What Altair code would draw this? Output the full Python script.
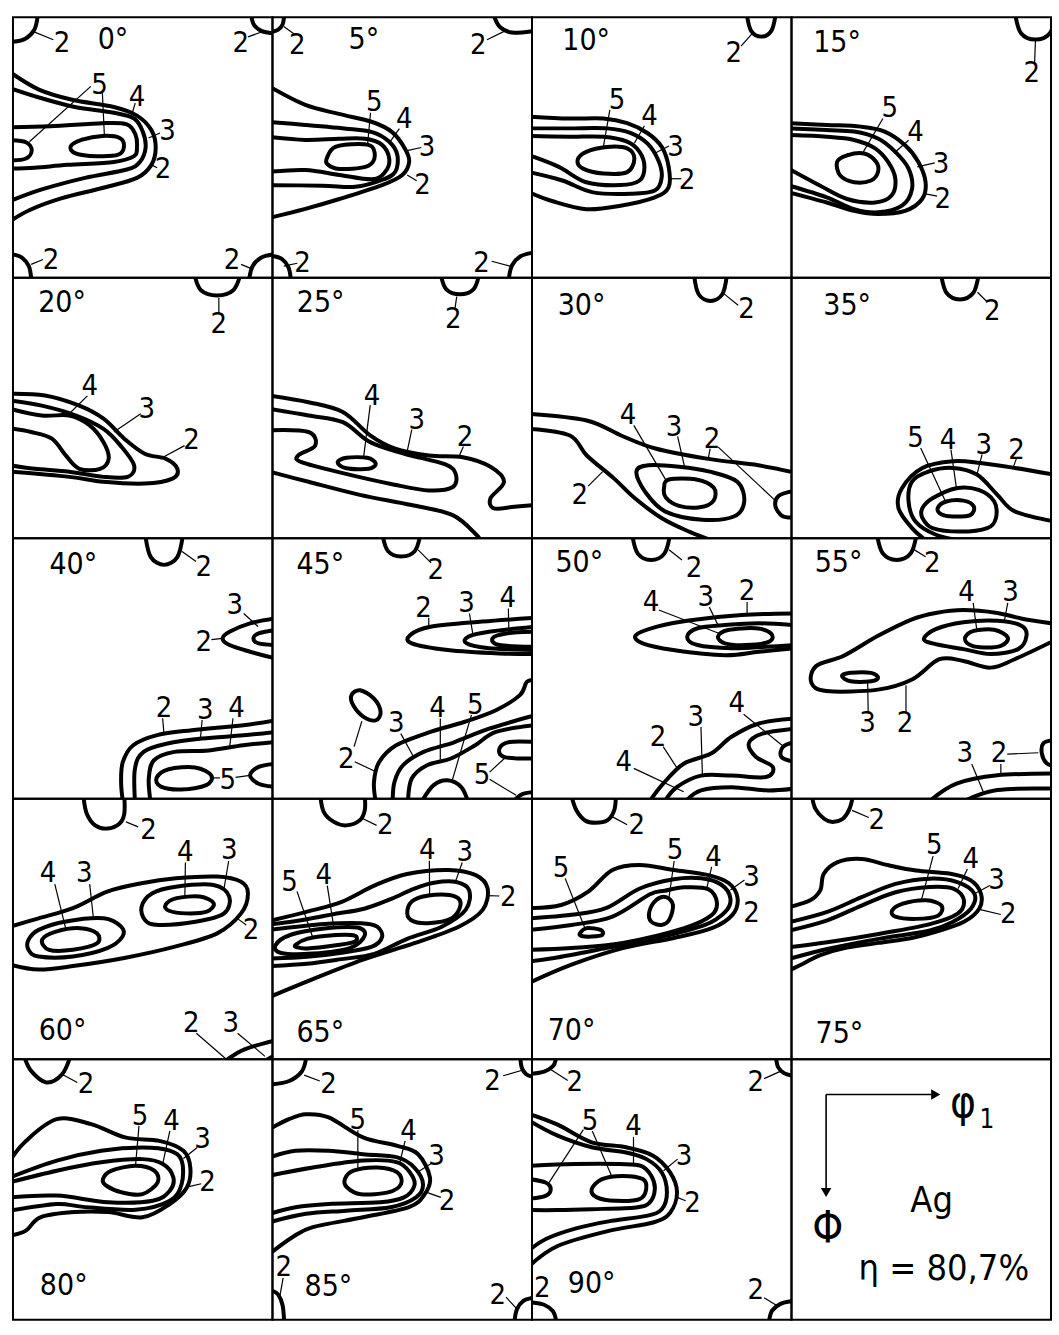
import altair as alt
import pandas as pd

FONT = "Liberation Sans Narrow, DejaVu Sans Condensed, Liberation Sans, sans-serif"

# Section angles (phi2) and where their captions sit inside each panel (phi1, Phi in degrees)
ANGLES = ["0°", "5°", "10°", "15°", "20°", "25°", "30°", "35°", "40°", "45°",
          "50°", "55°", "60°", "65°", "70°", "75°", "80°", "85°", "90°"]
ANGLE_POS = [(34.7, 7.8), (31.7, 7.8), (18.8, 8.1), (15.8, 9), (17, 8.6), (16.7, 8.6),
             (17.2, 9.7), (19.3, 9.8), (20.9, 9.2), (16.6, 9.2), (16.4, 8.7), (16.3, 8.7),
             (17.2, 80.3), (16.6, 80.8), (13.7, 80.3), (16.6, 81.3), (17.6, 78.2),
             (19.4, 78.8), (20.7, 77.8)]

# Each contour: (level, "o" open / "c" closed, [(phi1, Phi), ...])
LINES_00 = [
    (2, "o", [(0, 8.5), (4.3, 7.4), (7.4, 4.3), (8.5, 0)]),
    (2, "o", [(82.7, 0), (83.7, 2.8), (86.3, 4.8), (90, 5.5)]),
    (2, "o", [(0, 82), (3.2, 83.1), (5.5, 86), (6.3, 90)]),
    (2, "o", [(82, 90), (83.1, 86), (86, 83.1), (90, 82)]),
    (2, "o", [(-1, 19), (9, 25), (20.5, 28.5), (35, 31), (43, 34), (48, 39), (49.5, 45), (48, 51),
              (43, 55.5), (31, 59), (17, 62.5), (6, 66.5), (-1, 70.5)]),
    (3, "o", [(-1, 24.5), (10, 28), (21.5, 31), (35, 33), (42, 35), (45, 39.5), (46, 45), (44, 50),
              (39.5, 52.6), (25, 55.5), (10, 59.5), (-1, 63.5)]),
    (4, "o", [(-1, 38), (13, 37.7), (31, 36.6), (39.5, 37), (42.5, 40.6), (43, 45), (42, 48), (35, 50),
              (19, 51), (7.5, 52), (-1, 52.3)]),
    (5, "c", [(20, 44.6), (24, 42.3), (31, 41), (37, 41.7), (38.5, 44.6), (36.5, 47.5), (29, 48), (21.7, 47)]),
    (5, "o", [(-1, 42.5), (4.5, 43.2), (6.5, 46), (4.5, 48.8), (-1, 49.5)]),
]
LABELS_00 = [("2", 17, 9), ("2", 79, 9), ("2", 13.2, 84), ("2", 76, 84), ("5", 30, 23.3),
             ("4", 43, 27.4), ("3", 53.6, 39.4), ("2", 52, 52.6)]
LEADERS_00 = [(6.9, 4.9, 14, 7.8), (81.5, 6.8, 86.5, 5), (6.3, 85.4, 10.4, 83.7), (79.1, 85.4, 83.3, 87.1),
              (31, 26, 31.7, 40.8), (27, 23.9, 5.7, 43), (42.4, 29.7, 41, 34.3), (51, 40, 47, 41.7),
              (50, 52, 48, 51)]

LINES_05 = [
    (2, "o", [(0, 5), (2, 4.3), (3.5, 2.5), (4, 0)]),
    (2, "o", [(77, 0), (79, 3.5), (83, 5.3), (90, 4.8)]),
    (2, "o", [(0, 82.5), (3.2, 83.5), (5.5, 86.3), (6.3, 90)]),
    (2, "o", [(82, 90), (83.1, 85.7), (86, 82.6), (90, 81.4)]),
    (2, "o", [(-1, 24), (11.4, 30.3), (23, 33.4), (34.6, 36.2), (41.5, 39.7), (46, 45.5), (47.4, 50),
              (45, 54.5), (38, 58), (23.2, 62.8), (11.4, 66.2), (-1, 69.3)]),
    (3, "o", [(-1, 36.2), (11.4, 37.2), (26.6, 38.6), (34.6, 39.7), (40.5, 43), (43.3, 47.6), (42.6, 53.4),
              (38, 56.2), (28.7, 58.6), (17.3, 58.2), (-1, 58)]),
    (4, "o", [(-1, 41.4), (11.4, 42.4), (23.2, 42), (32.2, 42), (38, 44.1), (40.5, 49), (39.1, 53.4),
              (34.6, 56), (23.2, 54.5), (11.4, 52.8), (-1, 53.4)]),
    (5, "c", [(19, 48.3), (21.8, 44.8), (30, 43.8), (34.6, 44.8), (35.3, 49), (32.2, 51.7), (23.2, 52.4), (19, 50.7)]),
]
LABELS_05 = [("2", 8.6, 9.5), ("2", 71.4, 9.5), ("2", 10.4, 85), ("2", 72.5, 85), ("5", 35.3, 29.3),
             ("4", 45.7, 35.2), ("3", 53.6, 44.8), ("2", 52, 58)]
LEADERS_05 = [(3.9, 3.2, 7.5, 5.8), (74.4, 7.8, 80.5, 4.8), (3.9, 86, 8.6, 85), (76, 84.3, 82.5, 86),
              (34, 33, 33, 43.8), (44, 38.5, 40.8, 43), (51.6, 45, 46.3, 46.2), (50, 56.5, 46.7, 54.5)]

LINES_10 = [
    (2, "o", [(74.5, -1), (76, 4.7), (79.5, 6.7), (83, 4.7), (84.5, -1)]),
    (2, "o", [(-1, 34.3), (12.9, 35), (24.8, 35), (33, 36.6), (40, 40), (45, 44.8), (47.4, 51.7), (47.4, 58.7),
              (42.6, 62.2), (30.7, 65.1), (18.8, 66.3), (6.9, 63.5), (-1, 60.5)]),
    (3, "o", [(-1, 38.4), (12.9, 38.4), (26, 38.4), (34.3, 40), (40, 43.6), (43.8, 49.4), (45, 55.2),
              (42.6, 59.9), (34.3, 61), (21.2, 60.5), (10.5, 56.4), (-1, 53.5)]),
    (4, "o", [(-1, 41), (12.9, 41.3), (24.8, 41.3), (33, 43), (37.3, 46.5), (39, 51.7), (37.3, 56.4),
              (30.7, 58), (18.8, 57), (9.3, 51.7), (-1, 47.7)]),
    (5, "c", [(15.8, 49.4), (18.8, 46.5), (26, 44.8), (33, 45.3), (35.5, 48.8), (33, 53.5), (24.8, 54), (17.7, 52.3)]),
]
LABELS_10 = [("2", 70, 12.2), ("5", 29.5, 28.5), ("4", 40.8, 34.3), ("3", 49.8, 44.8), ("2", 53.8, 56.4)]
LEADERS_10 = [(72.5, 10, 76.5, 5.5), (27, 32, 24.8, 44.5), (39, 37.5, 35.5, 43.5), (47.5, 44.5, 42.6, 47),
              (51.8, 55.8, 47.6, 55.8)]

LINES_15 = [
    (2, "o", [(77.6, -1), (79.6, 5.5), (84.6, 7.7), (89.6, 5.5), (91.6, -1)]),
    (2, "o", [(-1, 36.6), (12.2, 37.2), (24, 37.8), (32.3, 39.5), (39.4, 44.2), (44, 50), (46.5, 57),
              (45.3, 62.8), (39.4, 66.9), (30, 68), (21.7, 66.9), (12.2, 64), (-1, 60.5)]),
    (3, "o", [(-1, 38.4), (12.2, 39), (21.7, 39.5), (30, 41.9), (36, 46.5), (40.6, 52.3), (41.8, 59.3),
              (38.3, 65.1), (30, 67.4), (21.7, 66.3), (12.2, 62.2), (-1, 58.1)]),
    (4, "o", [(-1, 40.7), (12.2, 41.3), (21.7, 42.4), (29, 45.3), (33.5, 50), (36, 55.8), (34.7, 61.6),
              (29, 64), (19.3, 62.8), (9.8, 58.1), (-1, 52.3)]),
    (5, "c", [(15.8, 50), (19.3, 47.7), (25.2, 47.1), (29.4, 50), (30, 53.5), (27.6, 56.4), (21.7, 57), (16.9, 54.7)]),
]
LABELS_15 = [("2", 83.3, 19.4), ("5", 34.1, 31.4), ("4", 43, 39.5), ("3", 51.9, 50.6), ("2", 52.5, 62.8)]
LEADERS_15 = [(84.6, 8, 84.3, 16), (31.7, 35, 24.5, 47.2), (40.6, 42.5, 35.5, 47), (49.7, 50.3, 43.6, 51.7),
              (50.5, 61.8, 46.5, 61)]

LINES_20 = [
    (2, "o", [(63, -1), (65.2, 4.3), (70.8, 6.1), (76.4, 4.3), (78.8, -1)]),
    (2, "o", [(-1, 40.1), (11.1, 40.7), (23, 44.2), (31.4, 48.7), (38.6, 55.6), (45.7, 60.8), (52.9, 62.5),
              (57, 66), (55.3, 69.4), (45.7, 71.1), (31.4, 70.5), (19.5, 68.8), (-1, 67)]),
    (3, "o", [(-1, 42.4), (10, 44.2), (21.9, 47.6), (31.4, 52.2), (37.3, 58), (42, 64.8), (39.8, 68.8),
              (31.4, 68.8), (19.5, 67), (7.5, 66), (-1, 64.8)]),
    (4, "o", [(-1, 45.3), (10, 47.6), (19.5, 47.6), (26.6, 51), (31.4, 56.8), (33.2, 62.5), (30.2, 66),
              (23, 66), (18.3, 61.4), (13.5, 55.6), (6.3, 53.3), (-1, 52)]),
]
LABELS_20 = [("2", 71.4, 16.1), ("4", 26.6, 37.3), ("3", 46.4, 45.3), ("2", 61.9, 56.2)]
LEADERS_20 = [(71.4, 7, 71.4, 12.5), (25.8, 40.8, 19.5, 47), (44.3, 47, 35, 53.3), (59.5, 58, 51.7, 62.2)]

LINES_25 = [
    (2, "o", [(58.4, -1), (60.3, 4), (65, 5.7), (69.7, 4), (71.6, -1)]),
    (2, "o", [(-1, 40.7), (12.5, 43), (24.4, 46.4), (33.9, 54.5), (42.3, 59), (54.2, 61.4), (66, 62),
              (75.6, 65.3), (80.3, 70.5), (75.6, 76.2), (76.8, 79.7), (83.9, 79.1), (91, 78.5)]),
    (2, "o", [(-1, 67), (12.5, 70.5), (30.3, 75), (48.2, 78.5), (62.5, 82), (70.8, 88.9), (72, 91)]),
    (3, "o", [(-1, 45.3), (12.5, 47.6), (24.4, 49.9), (33.9, 56.8), (45.8, 60.8), (60, 64.5), (63.6, 68),
              (62.4, 72.4), (54.2, 73.5), (42.3, 71.5), (24.4, 67.5), (10.1, 63.7), (8.9, 61.4), (14.8, 58),
              (12.5, 53.3), (-1, 52.7)]),
    (4, "c", [(22.6, 63.8), (25.6, 62.2), (32.8, 62.2), (35.8, 64.2), (33.4, 66), (25.6, 65.8)]),
]
LABELS_25 = [("2", 62.7, 14.3), ("4", 34.5, 40.7), ("3", 50, 49.3), ("2", 66.8, 55)]
LEADERS_25 = [(63.9, 6.5, 63.3, 10.5), (33.9, 44, 31.6, 62), (48.3, 52.5, 46.5, 61), (66.2, 58.3, 64.6, 62)]

LINES_30 = [
    (2, "o", [(56.2, -1), (57.8, 5.7), (61.9, 8), (66, 5.7), (67.6, -1)]),
    (2, "o", [(-1, 47), (19, 49.3), (30.9, 54.5), (42.8, 59), (60.6, 62.5), (78.5, 64.8), (91, 67.3)]),
    (2, "o", [(-1, 52.2), (13.1, 54.5), (19, 61.4), (28.5, 69.4), (35.7, 76.2), (45.2, 83.2), (54.7, 87.8), (63, 91)]),
    (2, "o", [(91, 73.6), (85.6, 75.3), (84.4, 78.8), (86.8, 82.3), (91, 82.8)]),
    (3, "c", [(36.2, 67), (40.3, 64.8), (51, 65.3), (61.6, 67), (71.2, 70.5), (73.6, 77.4), (70, 82.5),
              (59, 83.6), (46.3, 80.8), (39.2, 73.9)]),
    (4, "c", [(45.8, 72.5), (47.5, 69.7), (57, 69.7), (63, 72.5), (63, 77), (58.2, 79.3), (51, 78.8), (46.4, 75.9)]),
]
LABELS_30 = [("2", 74.4, 10.9), ("4", 33.3, 47.6), ("3", 49.3, 51.6), ("2", 62.4, 55.6), ("2", 16.6, 75)]
LEADERS_30 = [(66.5, 5.5, 71.5, 9.5), (35.3, 51, 46.5, 70), (50.5, 54.8, 52.9, 65.3), (61.8, 59, 61.2, 62),
              (64.6, 58.5, 84.4, 77), (19.5, 72, 24.5, 67)]

LINES_35 = [
    (2, "o", [(51.9, -1), (53.8, 5.3), (58.4, 7.5), (63, 5.3), (64.9, -1)]),
    (2, "o", [(91, 68), (77.4, 65.7), (65.5, 64), (56, 63.4), (45.4, 65.7), (38.3, 72.7), (37.1, 79.6),
              (41.8, 86.5), (47, 91)]),
    (3, "o", [(91, 84.2), (77.4, 80.7), (71.4, 75), (64.3, 68), (56, 65.7), (47.7, 66.9), (41.8, 70.4),
              (40.6, 77.3), (43, 84.2), (50.1, 88.8), (59.6, 91)]),
    (4, "c", [(45.4, 79.6), (48.9, 76.2), (57.2, 72.7), (64.9, 73.3), (70.3, 77.3), (70.9, 83), (67.9, 86.5),
              (58.4, 87.7), (48.9, 86.5), (45.4, 83)]),
    (5, "c", [(50.7, 79.6), (53.7, 77.3), (59.6, 77), (63.2, 79), (62, 82), (56, 82.5), (51.9, 81.7)]),
]
LABELS_35 = [("2", 69.6, 11.5), ("5", 43, 55.4), ("4", 54.3, 56), ("3", 66.7, 57.7), ("2", 78, 59.4)]
LEADERS_35 = [(64.5, 5, 67.8, 8.3), (44.8, 58.8, 53.5, 77.5), (55.3, 59.4, 57.2, 72.7), (66.1, 61, 64.3, 68),
              (78, 62.5, 76.8, 65.7)]

LINES_40 = [
    (2, "o", [(45.9, -1), (47.8, 6.5), (52.4, 9.2), (57, 6.5), (58.9, -1)]),
    (2, "o", [(91, 27.7), (82.2, 29.4), (75.1, 32.3), (72.7, 34.6), (75.1, 36.9), (82.2, 39.2), (91, 41.5)]),
    (3, "o", [(91, 31.7), (85.2, 32.9), (83.4, 34.6), (85.2, 36.3), (91, 36.9)]),
    (2, "o", [(91, 62.9), (79.9, 64.6), (62, 66.3), (50, 68), (41.7, 71.5), (38.1, 77.3), (37.5, 84.2), (38.1, 91)]),
    (3, "o", [(91, 66.9), (79.9, 68.1), (65.6, 69.2), (53.6, 70.9), (45.3, 73.8), (42.3, 79.6), (42.3, 91)]),
    (4, "o", [(91, 70.4), (79.9, 71.5), (67.9, 73.3), (56, 73.8), (48.9, 76.7), (47.1, 83), (47.7, 91)]),
    (5, "c", [(49.8, 82.8), (54, 79.8), (63.2, 79.2), (68.8, 82), (67, 85.3), (58.4, 86.8), (51.3, 85.8)]),
    (5, "o", [(91, 77.9), (85.2, 79), (82.2, 81.9), (85.2, 84.8), (91, 85.9)]),
]
LABELS_40 = [("2", 66.2, 9.8), ("3", 76.9, 23), ("2", 66.2, 35.8), ("2", 52.4, 58.8), ("3", 66.7, 59.4),
             ("4", 77.5, 58.8), ("5", 74.5, 83.6)]
LEADERS_40 = [(58.5, 4.5, 63.5, 8), (80, 26, 85, 30.5), (68.8, 35, 72.7, 34.6), (51.9, 62.2, 52.4, 67.8),
              (65.6, 62.8, 65, 69.2), (76.3, 62.2, 75.1, 72.6), (69, 82.8, 71.8, 82.8), (77.2, 82.6, 82.2, 81.9)]

LINES_45 = [
    (2, "o", [(38.2, -1), (40.1, 4.5), (44.7, 6.3), (49.3, 4.5), (51.2, -1)]),
    (2, "o", [(91, 27.5), (72.7, 28.8), (54.8, 30.6), (47.7, 33.5), (48.3, 36.3), (60.8, 38.6), (78.7, 39.8), (91, 40)]),
    (3, "o", [(91, 30.6), (75.1, 32.3), (67.9, 34), (67.3, 36.3), (75.1, 38), (91, 38.6)]),
    (4, "o", [(91, 32.3), (81, 32.9), (76.3, 34.6), (78.7, 36.9), (91, 37.5)]),
    (2, "c", [(27.4, 54.2), (30.4, 52.5), (35.2, 55.4), (37.5, 60), (35.8, 62.9), (31.6, 61.7), (28, 57.7)]),
    (2, "o", [(35.8, 91), (35.2, 84.2), (37, 77.3), (42.9, 71.5), (54.8, 66.9), (66.7, 63.4), (77.5, 59.4),
              (85.8, 54.2), (88.2, 49.6), (91, 49)]),
    (3, "o", [(41.7, 91), (42.3, 84.2), (45.3, 78.4), (52.4, 73.8), (63.2, 70.4), (75.1, 65.8), (91, 61.2)]),
    (4, "o", [(47, 91), (48.3, 83), (53.6, 78.4), (61.9, 76.1), (70.3, 71.5), (77.5, 66.9), (91, 64.6)]),
    (5, "o", [(51.7, 91), (55.9, 85.3), (60.7, 83.6), (65.4, 85.9), (67.8, 91)]),
    (5, "o", [(91, 70.4), (82.2, 70.4), (78.7, 72.7), (80.5, 75.6), (91, 76.1)]),
    (5, "o", [(83.5, 91), (86.5, 88.5), (91, 87.7)]),
]
LABELS_45 = [("2", 56.6, 11), ("2", 52.4, 24.2), ("3", 67.3, 22.5), ("4", 81.6, 20.8), ("2", 25.6, 76.1),
             ("3", 42.9, 64), ("4", 57.2, 58.8), ("5", 70.3, 57.7), ("5", 72.7, 81.9)]
LEADERS_45 = [(50.5, 4, 55, 8.5), (54.2, 27.5, 54.2, 30.6), (68.3, 26, 69.5, 33.2), (81.8, 24.3, 82, 32.9),
              (31, 63.2, 28.3, 72), (28.5, 77.2, 35.5, 80.5), (44.5, 67.5, 48.9, 75.5), (58.2, 62.3, 58.2, 76.5),
              (69, 61, 62.3, 83.8), (75.3, 80.8, 80.5, 76), (75.3, 83.3, 84.5, 88.8)]

LINES_50 = [
    (2, "o", [(34.8, -1), (36.7, 5.3), (41.3, 7.5), (45.9, 5.3), (47.8, -1)]),
    (2, "o", [(91, 26), (72.8, 26.5), (55, 28.3), (43.1, 30.6), (36, 33.5), (38.4, 36.3), (49, 38.6),
              (66.9, 40.4), (78.7, 39.2), (91, 38)]),
    (3, "o", [(91, 30), (78.7, 29.4), (66.9, 30), (57.4, 31.1), (53.8, 34), (57.4, 36.9), (69.3, 38),
              (81.1, 37.5), (91, 36.9)]),
    (4, "c", [(64.5, 34), (68, 31.7), (77.6, 31.1), (82.9, 32.9), (82.3, 35.7), (74, 36.9), (66.9, 36.3)]),
    (2, "o", [(40.7, 91), (45.5, 84.8), (52.6, 77.9), (62.1, 74.4), (69.2, 68.6), (78.7, 64), (91, 62.3)]),
    (3, "o", [(46, 91), (50.2, 86), (58.6, 82), (69.2, 82), (81.1, 82.5), (83.5, 79), (77.6, 75.5), (75.2, 70.9),
              (79.9, 67.5), (91, 65.8)]),
    (4, "o", [(53.2, 91), (58.6, 87.1), (69.2, 86), (81.1, 87.1), (91, 86.5)]),
    (4, "o", [(91, 70.4), (87, 72.1), (86.5, 75.6), (91, 77.3)]),
]
LABELS_50 = [("2", 56.2, 10.4), ("4", 41.3, 22), ("3", 60.3, 20.2), ("2", 74.6, 18.4), ("4", 71, 57),
             ("3", 56.8, 61.7), ("2", 43.7, 68.6), ("4", 31.8, 77.3)]
LEADERS_50 = [(47.5, 4, 52, 7.5), (44, 24.8, 65.2, 33), (61.5, 23.8, 64.5, 30), (74.6, 22, 74.6, 26.4),
              (73.4, 60.8, 86.7, 71.5), (58.6, 65.2, 59.1, 82), (45.5, 72, 50.5, 79.7), (35.3, 79.5, 52.6, 87.6)]

LINES_55 = [
    (2, "o", [(29.7, -1), (31.7, 5.3), (36.5, 7.5), (41.3, 5.3), (43.3, -1)]),
    (2, "o", [(91, 29.5), (80, 27.8), (71.4, 25.8), (59.6, 24.8), (50, 25.8), (41.8, 28), (30, 33.7),
              (18.1, 40.6), (8.6, 44.1), (6.9, 49.9), (12.2, 52.8), (30, 52.3), (41.8, 48.8), (51.3, 41.8),
              (59.6, 42.4), (69, 44.7), (77.4, 41.8), (91, 35.4)]),
    (3, "c", [(45.9, 34.8), (50, 31.4), (59.6, 29), (71.4, 28.5), (79.7, 30.2), (81.5, 33.7), (78.6, 38.3),
              (69, 40), (59.6, 38.3), (50, 36.6)]),
    (4, "c", [(60.2, 34.3), (63.2, 32), (70.3, 31.6), (75, 34.3), (72.6, 37.2), (65.5, 37.7), (61.4, 36.6)]),
    (3, "c", [(17.5, 47.6), (20.5, 46.5), (27.6, 46.5), (30, 48.2), (27.6, 49.4), (20.5, 49.4)]),
    (2, "o", [(91, 69.7), (87.4, 70.8), (86.8, 74.3), (88.5, 77.8), (91, 78.4)]),
    (2, "o", [(47.7, 91), (57.2, 84.8), (71.4, 81.9), (91, 81.3)]),
    (3, "o", [(59.5, 91), (71.4, 87), (91, 86.5)]),
]
LABELS_55 = [("2", 48.8, 8.7), ("4", 60.7, 18.6), ("3", 76, 18.6), ("3", 26.4, 63.9), ("2", 39.4, 63.9),
             ("3", 60.1, 74.3), ("2", 72, 74.3)]
LEADERS_55 = [(41.8, 3.5, 46.5, 6.4), (63, 22.3, 64.3, 32), (75, 22.3, 73.8, 28.6), (26.4, 49.5, 26.6, 60),
              (39.7, 50.8, 39.7, 60), (74.8, 74.6, 85.6, 74.1), (72.6, 78, 72.6, 81.8), (62.5, 78, 66.5, 87.6)]

LINES_60 = [
    (2, "o", [(24.4, -1), (25.6, 5.2), (28.5, 9.2), (32.7, 10.3), (36.9, 8.6), (38.6, 5.2), (38.6, -1)]),
    (2, "o", [(-1, 44.2), (8.9, 41.3), (20.8, 37.8), (32.7, 32.1), (44.6, 29.2), (56.5, 27.5), (70.8, 26.9),
              (79.1, 28.7), (81.5, 32.7), (79.1, 39.6), (70.8, 46.5), (56.5, 51), (38.6, 55), (20.8, 57.8),
              (8.9, 59), (-1, 57.3)]),
    (3, "c", [(5.4, 48.7), (8.9, 45.3), (18.4, 42.4), (31.5, 41.3), (37.5, 44.2), (38, 47.6), (32.7, 51.6),
              (20.8, 54.5), (8.9, 54.5), (5.4, 52.2)]),
    (4, "c", [(10.1, 48.7), (14.9, 45.9), (23.2, 44.7), (29.1, 46.5), (29.1, 50), (20.8, 52.2), (12.5, 52.2)]),
    (3, "c", [(44.6, 37.3), (48.2, 32.7), (56.5, 30.4), (69.6, 29.8), (75, 33.8), (73.2, 39.6), (63.8, 42.4),
              (50.5, 43.6), (45.8, 41.9)]),
    (4, "c", [(52.9, 36.7), (56.5, 34.4), (64.8, 33.8), (69.6, 36.1), (67.2, 39), (60.1, 39.6), (54.1, 38.7)]),
    (2, "o", [(73.1, 91), (80.3, 86.6), (91, 83.5)]),
    (3, "o", [(86.5, 91), (91, 88.5)]),
]
LABELS_60 = [("2", 47, 10.9), ("4", 12.2, 25.8), ("3", 24.7, 25.8), ("4", 59.8, 18.3), ("3", 75, 17.8),
             ("2", 82.6, 45.3), ("2", 61.8, 77.4), ("3", 75.5, 77.4)]
LEADERS_60 = [(39.2, 8, 43.4, 9.7), (14.5, 29.5, 18.4, 45.3), (26.6, 29.5, 27.9, 41.3), (59.8, 22, 59.6, 34.1),
              (74.8, 21.5, 73.2, 31), (78, 41.5, 80.9, 43.6), (63.6, 81, 74, 90), (77.9, 81, 87.4, 89)]

LINES_65 = [
    (2, "o", [(16.6, -1), (17.8, 4.6), (21.3, 8), (25.5, 9.2), (30.2, 7.5), (32, 4), (32, -1)]),
    (2, "o", [(-1, 42.2), (12, 39), (24, 35.6), (35.3, 30), (46.7, 26), (61, 24.6), (70.5, 26.4), (74.6, 31),
              (72.9, 38.4), (64.6, 44.2), (49.2, 49.9), (31.4, 55.6), (13.6, 62.5), (-1, 68.5)]),
    (3, "o", [(-1, 43.5), (12, 41.6), (21.5, 39.8), (31.8, 38), (41.2, 34.6), (49, 31.1), (56, 29), (63.4, 28.7),
              (68.2, 31.6), (67, 38.4), (58.7, 44.2), (46.7, 48.4), (35.3, 53.6), (24, 55.4), (12, 57), (-1, 57.8)]),
    (3, "o", [(-1, 45.3), (18, 43.3), (30.8, 43), (36.3, 44.2), (38, 47.8), (34.3, 51.2), (24, 53.2), (12, 54.6),
              (-1, 55.2)]),
    (4, "c", [(1.1, 50.5), (6.6, 46.9), (18, 44.8), (29.4, 44.5), (32, 47.2), (27, 51.5), (14, 53.5), (3, 53.3)]),
    (5, "c", [(8, 50.5), (12, 48.4), (22, 47.1), (28.5, 47.3), (28.5, 49.4), (22, 50.6), (12, 51.7), (8.5, 51.3)]),
    (4, "c", [(46.8, 38.4), (49.2, 34.9), (56.3, 33.2), (63.4, 33.8), (65.2, 36.7), (62.2, 41.3), (53.9, 43), (48, 41.9)]),
]
LABELS_65 = [("2", 39.1, 9.2), ("5", 5.9, 28.7), ("4", 17.8, 26.4), ("4", 53.7, 17.8), ("3", 66.7, 18.4),
             ("2", 81.8, 33.8)]
LEADERS_65 = [(31.4, 6.9, 36.1, 9.2), (8.5, 32, 14, 48), (19, 30, 21.3, 44.6), (54.4, 21.4, 54.5, 33.3),
              (65.8, 22, 63.4, 28.8), (74.3, 33.5, 78.7, 33.6)]

LINES_70 = [
    (2, "o", [(13.7, -1), (15.4, 4), (18.4, 7.5), (22, 8.3), (26.1, 7.5), (28.5, 4), (29.1, -1)]),
    (2, "o", [(-1, 37.8), (10.1, 36.7), (19.5, 32.1), (27.9, 24.6), (37.4, 22.9), (49.2, 24.6), (61.2, 26.4),
              (68.3, 29.2), (71.3, 34.4), (69.5, 40.1), (62.4, 44.7), (49.2, 48.1), (31.5, 51.6), (13.7, 57.3),
              (-1, 63.6)]),
    (3, "o", [(-1, 41.3), (13.7, 40.1), (25.6, 37.8), (37.4, 31), (49.2, 27.8), (58.7, 27.5), (65.8, 29.8),
              (68.8, 34.4), (67.1, 39), (60, 43.6), (43.4, 48.1), (25.6, 51.6), (7.7, 55), (-1, 56.2)]),
    (4, "o", [(-1, 45.3), (13.7, 43.6), (27.9, 40.7), (40.9, 33), (46, 31.8), (52.8, 30.6), (61.1, 31.2),
              (64.1, 35.7), (62.3, 40.2), (52.8, 44.7), (31.5, 49.8), (13.7, 51.6), (-1, 52.2)]),
    (5, "c", [(40.7, 39), (43.1, 35), (46.5, 34), (48.9, 36.7), (47.6, 41.8), (44.8, 43.6), (41.3, 42.4)]),
    (5, "c", [(16.6, 46.5), (19, 44.7), (23.8, 45.3), (24.4, 47), (20.8, 47.6), (17.2, 47.4)]),
]
LABELS_70 = [("2", 36.3, 9.2), ("5", 10.1, 24), ("5", 49.6, 17.8), ("4", 63, 20.1), ("3", 76.1, 26.9),
             ("2", 76.1, 39.6)]
LEADERS_70 = [(27.5, 6, 33, 9), (11.5, 27.5, 18.4, 44.8), (49.3, 21.5, 47.5, 34.2), (62.3, 23.5, 60.6, 31),
              (73.7, 28.1, 68.8, 31.5)]

LINES_75 = [
    (2, "o", [(7.1, -1), (8.3, 3.5), (11.3, 6.9), (14.2, 8), (17.8, 6.9), (20.1, 3.5), (21.3, -1)]),
    (2, "o", [(-1, 37.5), (6.5, 35.1), (10, 31.6), (11.2, 25.9), (16, 21.9), (24.3, 20.8), (33.7, 23), (43.2, 24.8),
              (55.1, 25.9), (62.2, 28.2), (65.7, 32.8), (65.1, 38), (59.8, 42.5), (50, 46), (42.1, 48), (30.2, 49.8),
              (18.4, 51.6), (10, 54), (4, 57), (-1, 59.4)]),
    (3, "o", [(-1, 42.7), (12.4, 39.1), (24.3, 34), (36.1, 29.4), (48, 27.6), (57.5, 28.8), (63.4, 32.8), (62.2, 38),
              (56, 42.5), (48, 45.5), (30.2, 48.4), (12.4, 51.9), (-1, 55.4)]),
    (4, "o", [(-1, 45.6), (12.4, 42), (24.3, 36.9), (36.1, 32.3), (48, 30.5), (56.3, 31.1), (59.8, 35.1), (57.5, 39.8),
              (48, 43.3), (30.2, 46.7), (12.4, 49.6), (-1, 51.3)]),
    (5, "c", [(34.9, 38.6), (38.4, 36.3), (46.7, 35.1), (52, 36.9), (50.8, 40.4), (43.1, 41.5), (36, 40.7)]),
]
LABELS_75 = [("2", 29.6, 7.5), ("5", 49.5, 16.1), ("4", 62.2, 20.7), ("3", 71.1, 28.2), ("2", 75.2, 39.7)]
LEADERS_75 = [(21, 4, 26.8, 6.5), (49.1, 19.8, 45, 35.2), (61, 24.3, 57.8, 31), (68.8, 30, 63.4, 32.8),
              (72.6, 40, 65.5, 38.3)]

LINES_80 = [
    (2, "o", [(3.9, -1), (6.3, 4), (11.6, 8), (17, 5.2), (19.9, -1)]),
    (2, "o", [(-1, 35), (4.5, 28.2), (15.2, 20.7), (27.1, 22.4), (38.9, 27), (50.8, 28.2), (59.1, 31.6), (61.5, 37.4),
              (60.3, 44.3), (54.4, 50), (44.9, 54.6), (33, 52.8), (21.2, 52.8), (9.5, 54.6), (4.5, 59.2), (-1, 60.9)]),
    (3, "o", [(-1, 40.8), (15.2, 35), (30.6, 31.6), (44.9, 30.5), (54.4, 31.6), (58.5, 35), (58.5, 43.1), (54.4, 48.9),
              (42.5, 52), (24.4, 51), (15.2, 50), (-1, 52.3)]),
    (4, "o", [(-1, 42.5), (15.2, 38.5), (30.6, 35.6), (44.9, 34.5), (52, 36.2), (55.6, 40.8), (54.4, 45.4), (48.5, 48.9),
              (33, 49.4), (15.2, 47.1), (-1, 47.7)]),
    (5, "c", [(31.2, 41.4), (34.2, 38.5), (42.5, 36.8), (49, 38.5), (50.2, 42.5), (44.9, 46.6), (37.8, 46), (32.4, 43.7)]),
]
LABELS_80 = [("2", 25.3, 8.6), ("5", 44.1, 19.5), ("4", 55, 21.3), ("3", 65.7, 27.6), ("2", 67.5, 42.5)]
LEADERS_80 = [(17, 5.2, 22.3, 8), (43.7, 23, 42.5, 36.8), (54.4, 24.7, 52, 35.8), (63.9, 30.5, 59.1, 34.3),
              (65.3, 43, 61, 44)]

LINES_85 = [
    (2, "o", [(0, 8.6), (5.8, 7.5), (10.1, 4.3), (11.6, 0)]),
    (2, "o", [(86, 0), (86.5, 3), (88, 5.2), (90, 6)]),
    (2, "o", [(0, 80), (2, 81.3), (3.5, 85), (4, 90)]),
    (2, "o", [(84, 90), (84.8, 86.3), (87, 83.5), (90, 82.5)]),
    (2, "o", [(-1, 24.1), (5.7, 20.7), (11.6, 19), (19.5, 20.1), (31.4, 27), (43.3, 29.9), (50.5, 32.8), (54.6, 40.8),
              (52.8, 46.6), (47.3, 51.1), (31.4, 54.6), (14, 58), (6.9, 61.5), (-1, 67.2)]),
    (3, "o", [(-1, 33.9), (8, 31.6), (19.5, 31.6), (31.4, 32.8), (43.3, 33.9), (49.2, 37.4), (52.2, 43.1), (49.8, 47.7),
              (41, 51.1), (25.6, 52.3), (11.6, 53.4), (-1, 56.3)]),
    (4, "o", [(-1, 40.2), (14, 37.4), (31.4, 35), (43.3, 35.6), (48, 39.6), (49.2, 43.7), (45.6, 47.7), (37.4, 49.4),
              (19.5, 50), (8, 51.1), (-1, 53.4)]),
    (5, "c", [(25.1, 41.4), (28.1, 38.5), (36.4, 37.4), (43.3, 39.1), (44.6, 43.1), (40.1, 46), (30.6, 46.6), (25.9, 44.3)]),
]
LABELS_85 = [("2", 19.4, 8.6), ("2", 76.3, 7.5), ("2", 3.9, 71.8), ("2", 78.1, 81.6), ("5", 29.6, 21),
             ("4", 47.2, 24.7), ("3", 56.9, 33.3), ("2", 60.5, 48.9)]
LEADERS_85 = [(11, 5.5, 16.4, 7.5), (80, 5.7, 86.6, 3.8), (3.7, 75.5, 2.6, 81.6), (81, 82.2, 85, 86.5),
              (29.6, 24.5, 29.6, 37.6), (46, 28.2, 44.2, 35.5), (55.3, 35.8, 50.7, 38.8), (58.4, 47.7, 53.5, 46)]

LINES_90 = [
    (2, "o", [(0, 5), (4.2, 4.3), (7.2, 2.5), (8.3, 0)]),
    (2, "o", [(84.7, 0), (85.4, 2.8), (87.4, 4.8), (90, 5.6)]),
    (2, "o", [(0, 84), (4.2, 84.8), (7.2, 87), (8.3, 90)]),
    (2, "o", [(82.3, 90), (83.3, 86.8), (86.2, 84.5), (90, 83.6)]),
    (2, "o", [(-1, 18.9), (8.9, 22.6), (20.7, 28.7), (32.6, 30.4), (42, 33.3), (47.9, 39.1), (50.3, 46), (47.9, 53),
              (42, 56.4), (26.6, 59.3), (8.9, 64.5), (-1, 71.5)]),
    (3, "o", [(-1, 21.2), (8.9, 26.4), (20.7, 30.4), (32.6, 32.2), (39.7, 34.5), (45, 39.1), (46.8, 46), (45, 51.8),
              (39.7, 54.1), (26.6, 56), (15, 58.5), (5, 62), (-1, 66)]),
    (4, "o", [(-1, 36.8), (14.8, 36.2), (30.2, 36.2), (37.8, 36.8), (41.4, 40.3), (42.6, 44.9), (40.8, 49.5),
              (36.1, 51.2), (20.7, 51.8), (8.9, 52.1), (-1, 52.1)]),
    (5, "c", [(20.7, 44.9), (24.3, 41.4), (31.4, 40.3), (38.4, 41.4), (39.6, 44.9), (37.3, 48.3), (29, 48.9), (22.5, 47.7)]),
    (5, "o", [(-1, 41.4), (4.7, 42.6), (6.5, 44.9), (4.7, 47.2), (-1, 48.2)]),
]
LABELS_90 = [("2", 14.8, 7.9), ("2", 77.6, 7.9), ("2", 3.6, 79), ("2", 77.6, 79.6), ("5", 20.1, 21.2),
             ("4", 35.2, 23), ("3", 52.7, 33.3), ("2", 55.7, 49.5)]
LEADERS_90 = [(6.5, 3.5, 12.4, 7.3), (80.5, 6.7, 86.5, 4), (80.5, 82.4, 85.3, 85.3), (17.8, 24.3, 5.9, 42.6),
              (20.9, 24.8, 27.8, 40.8), (35.2, 26.8, 35.2, 36.3), (50.5, 34.5, 45.6, 38.5), (53.3, 48.9, 50.3, 47.7)]

# Key panel (bottom right)
KEY_AXES = [(12, 12.2, 48.5, 12.2), (12, 12.2, 12, 44.5)]
KEY_HEADS = [("triangle-right", 50, 12.2), ("triangle-down", 12, 46)]
KEY_SYMBOLS = [("φ", 59.5, 15.5), ("Φ", 12.6, 59)]
KEY_SUB = [("1", 67.8, 21)]
KEY_TEXT = [("Ag", 48.6, 49), ("η = 80,7%", 52.8, 72.3)]

PANELS = [
    (LINES_00, LABELS_00, LEADERS_00), (LINES_05, LABELS_05, LEADERS_05), (LINES_10, LABELS_10, LEADERS_10),
    (LINES_15, LABELS_15, LEADERS_15), (LINES_20, LABELS_20, LEADERS_20), (LINES_25, LABELS_25, LEADERS_25),
    (LINES_30, LABELS_30, LEADERS_30), (LINES_35, LABELS_35, LEADERS_35), (LINES_40, LABELS_40, LEADERS_40),
    (LINES_45, LABELS_45, LEADERS_45), (LINES_50, LABELS_50, LEADERS_50), (LINES_55, LABELS_55, LEADERS_55),
    (LINES_60, LABELS_60, LEADERS_60), (LINES_65, LABELS_65, LEADERS_65), (LINES_70, LABELS_70, LEADERS_70),
    (LINES_75, LABELS_75, LEADERS_75), (LINES_80, LABELS_80, LEADERS_80), (LINES_85, LABELS_85, LEADERS_85),
    (LINES_90, LABELS_90, LEADERS_90),
]

W, H = 260, 261
XS = alt.Scale(domain=[0, 90], nice=False, zero=False)
YS = alt.Scale(domain=[0, 90], nice=False, zero=False, reverse=True)


def X(f="x"):
    return alt.X(f"{f}:Q", scale=XS, axis=None)


def Y(f="y"):
    return alt.Y(f"{f}:Q", scale=YS, axis=None)


def contour_df(lines, kind):
    rows = []
    for k, (lvl, kd, pts) in enumerate(lines):
        if kd != kind:
            continue
        for i, (x, y) in enumerate(pts):
            rows.append({"cid": k, "i": i, "x": x, "y": y, "level": lvl})
    return pd.DataFrame(rows, columns=["cid", "i", "x", "y", "level"])


def contour_layer(df, interp):
    return alt.Chart(df).mark_line(
        interpolate=interp, clip=True, color="black", strokeWidth=4.0,
        strokeCap="round", strokeJoin="round"
    ).encode(x=X(), y=Y(), detail="cid:N", order="i:Q")


def leader_layer(leaders, width=1.2):
    df = pd.DataFrame(leaders, columns=["x", "y", "x2", "y2"])
    return alt.Chart(df).mark_rule(color="black", strokeWidth=width).encode(
        x=X(), y=Y(), x2="x2:Q", y2="y2:Q")


def text_layer(items, size):
    df = pd.DataFrame(items, columns=["t", "x", "y"])
    return alt.Chart(df).mark_text(
        font=FONT, fontSize=size, align="center", baseline="middle", color="black"
    ).encode(x=X(), y=Y(), text="t:N")


charts = []
for idx, (lines, labels, leaders) in enumerate(PANELS):
    layers = []
    op = contour_df(lines, "o")
    cl = contour_df(lines, "c")
    if len(op):
        layers.append(contour_layer(op, "cardinal"))
    if len(cl):
        layers.append(contour_layer(cl, "cardinal-closed"))
    layers.append(leader_layer(leaders))
    layers.append(text_layer(labels, 29))
    ax, ay = ANGLE_POS[idx]
    layers.append(text_layer([(ANGLES[idx], ax, ay)], 30))
    charts.append(alt.layer(*layers).properties(width=W, height=H))

heads = pd.DataFrame(KEY_HEADS, columns=["shape", "x", "y"])
key = alt.layer(
    leader_layer(KEY_AXES, 1.6),
    alt.Chart(heads).mark_point(filled=True, color="black", size=110, opacity=1).encode(
        x=X(), y=Y(), shape=alt.Shape("shape:N", scale=None)),
    text_layer(KEY_SYMBOLS, 44),
    text_layer(KEY_SUB, 26),
    text_layer(KEY_TEXT, 36),
).properties(width=W, height=H)
charts.append(key)

chart = alt.concat(*charts, columns=4, spacing=0, bounds="flush").properties(
    background="white",
    padding={"left": 12, "top": 15, "right": 7, "bottom": 13},
).configure_view(stroke="black", strokeWidth=2)

chart.save("out.html", embed_options={"renderer": "svg", "actions": False})
